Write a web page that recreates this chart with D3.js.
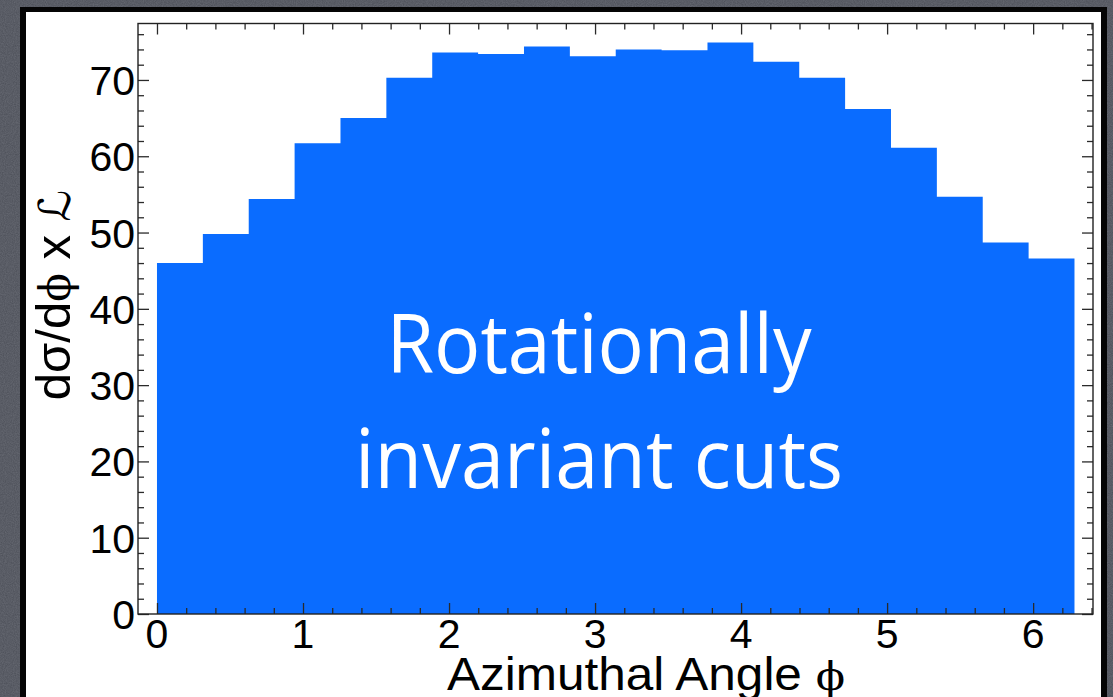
<!DOCTYPE html>
<html>
<head>
<meta charset="utf-8">
<script src="https://cdn.jsdelivr.net/npm/d3@7"></script>
<style>
  html, body { margin: 0; padding: 0; background: #4b4e57; overflow: hidden; }
  svg { display: block; }
</style>
</head>
<body>
<svg id="chart" width="1113" height="697"></svg>
<script>
// Histogram contents: events per bin of the azimuthal angle, 20 bins over [0, 2π]
const counts = [46.0, 49.8, 54.4, 61.7, 65.0, 70.3, 73.6, 73.4, 74.4, 73.1,
                74.0, 73.9, 74.9, 72.4, 70.3, 66.2, 61.1, 54.7, 48.7, 46.6];
const phiRange = [0, 2 * Math.PI];

// Axis ranges and tick labels
const xDomain = [-0.13, 6.41];
const yDomain = [0, 77.4];
const xTicks = [0, 1, 2, 3, 4, 5, 6];
const yTicks = [0, 10, 20, 30, 40, 50, 60, 70];
const xMinorStep = 0.2;
const yMinorStep = 2;

// Text
const xTitle = "Azimuthal Angle ";
const xTitleSymbol = "\u03D5";
const yTitleParts = ["d\u03C3/d", "\u03D5", " x ", "\u2112"];
const noteLines = ["Rotationally", "invariant cuts"];

const W = 1113, H = 697;
const plot = { left: 138, right: 1093, top: 23.5, bottom: 614 };
const numFont = "'Liberation Sans', Arial, Helvetica, sans-serif";
const blue = "#0a6cff";

const svg = d3.select("#chart");

// Slate backdrop with a faint grain
const defs = svg.append("defs");
const grain = defs.append("filter").attr("id", "grain")
  .attr("x", 0).attr("y", 0).attr("width", "100%").attr("height", "100%");
grain.append("feTurbulence").attr("type", "fractalNoise")
  .attr("baseFrequency", 0.9).attr("numOctaves", 2).attr("seed", 4).attr("result", "n");
grain.append("feColorMatrix").attr("type", "matrix")
  .attr("values", "0 0 0 0 0.62  0 0 0 0 0.64  0 0 0 0 0.70  0 0 0 0.22 0");
svg.append("rect").attr("width", W).attr("height", H).attr("fill", "#4b4e57");
svg.append("rect").attr("width", W).attr("height", H).attr("filter", "url(#grain)");

// Slide panel: black rim and white card
svg.append("rect").attr("x", 20).attr("y", 7).attr("width", 1087).attr("height", 720).attr("fill", "#050505");
svg.append("rect").attr("x", 26).attr("y", 12).attr("width", 1075).attr("height", 720).attr("fill", "#ffffff");

// Scales
const x = d3.scaleLinear().domain(xDomain).range([plot.left, plot.right]);
const y = d3.scaleLinear().domain(yDomain).range([plot.bottom, plot.top]);

// Histogram drawn as a step area
const binW = (phiRange[1] - phiRange[0]) / counts.length;
const steps = counts.map((c, i) => ({ lo: phiRange[0] + i * binW, c }));
steps.push({ lo: phiRange[1], c: counts[counts.length - 1] });
const area = d3.area()
  .x(d => x(d.lo))
  .y0(y(0))
  .y1(d => y(d.c))
  .curve(d3.curveStepAfter);
svg.append("path").datum(steps).attr("d", area).attr("fill", blue);

// Tick positions
const xMinor = d3.range(0, xDomain[1] + 1e-9, xMinorStep)
  .filter(v => Math.abs(v - Math.round(v)) > 1e-6);
const yMinor = d3.range(0, yDomain[1] + 1e-9, yMinorStep)
  .filter(v => v % 10 !== 0);

function tickAxis(gen, scale, values, size, tx, ty) {
  const ax = gen(scale).tickValues(values).tickSizeInner(size).tickSizeOuter(0)
    .tickPadding(0).tickFormat("");
  const g = svg.append("g").attr("transform", `translate(${tx},${ty})`).call(ax);
  g.select(".domain").remove();
  g.selectAll(".tick line").attr("stroke", "#2a2a2a").attr("stroke-width", 1.3);
  return g;
}

// Bottom and top (ticks point into the frame)
tickAxis(d3.axisBottom, x, xTicks, -11, 0, plot.bottom);
tickAxis(d3.axisBottom, x, xMinor, -6, 0, plot.bottom);
tickAxis(d3.axisTop, x, xTicks, -11, 0, plot.top);
tickAxis(d3.axisTop, x, xMinor, -6, 0, plot.top);
// Left and right
tickAxis(d3.axisLeft, y, yTicks, -11, plot.left, 0);
tickAxis(d3.axisLeft, y, yMinor, -6, plot.left, 0);
tickAxis(d3.axisRight, y, yTicks, -11, plot.right, 0);
tickAxis(d3.axisRight, y, yMinor, -6, plot.right, 0);

// Frame
svg.append("rect")
  .attr("x", plot.left).attr("y", plot.top)
  .attr("width", plot.right - plot.left).attr("height", plot.bottom - plot.top)
  .attr("fill", "none").attr("stroke", "#222").attr("stroke-width", 1.4);

// Tick labels
svg.append("g").selectAll("text").data(xTicks).join("text")
  .attr("x", d => x(d)).attr("y", 648)
  .attr("text-anchor", "middle")
  .attr("font-family", numFont).attr("font-size", 41).attr("fill", "#000")
  .text(d => d3.format("d")(d));

svg.append("g").selectAll("text").data(yTicks).join("text")
  .attr("x", 135).attr("y", d => y(d) + 15)
  .attr("text-anchor", "end")
  .attr("font-family", numFont).attr("font-size", 41).attr("fill", "#000")
  .text(d => d3.format("d")(d));

// Axis titles
const xt = svg.append("text")
  .attr("x", 447).attr("y", 690)
  .attr("text-anchor", "start")
  .attr("textLength", 398).attr("lengthAdjust", "spacingAndGlyphs")
  .attr("font-family", numFont).attr("font-size", 46).attr("fill", "#000");
xt.append("tspan").text(xTitle);
xt.append("tspan").attr("font-family", "'DejaVu Serif', serif").attr("font-size", 40).text(xTitleSymbol);

const yt = svg.append("text")
  .attr("transform", "translate(70,295) rotate(-90)")
  .attr("text-anchor", "middle")
  .attr("font-family", numFont).attr("font-size", 49).attr("fill", "#000");
yTitleParts.forEach((p, i) => {
  const ts = yt.append("tspan").text(p);
  if (i === 1) ts.attr("font-family", "'DejaVu Serif', serif").attr("font-size", 42);
  if (i === 3) ts.attr("font-family", "'DejaVu Sans', sans-serif").attr("font-style", "italic").attr("font-size", 44);
});

// Annotation on the histogram
const noteWidths = [425, 488];
const noteBase = [373, 488];
noteLines.forEach((line, i) => {
  svg.append("text")
    .attr("x", 599).attr("y", noteBase[i])
    .attr("text-anchor", "middle")
    .attr("font-family", "'Open Sans', 'DejaVu Sans', sans-serif")
    .attr("font-size", 83).attr("fill", "#ffffff")
    .attr("textLength", noteWidths[i]).attr("lengthAdjust", "spacingAndGlyphs")
    .text(line);
});
</script>
</body>
</html>
